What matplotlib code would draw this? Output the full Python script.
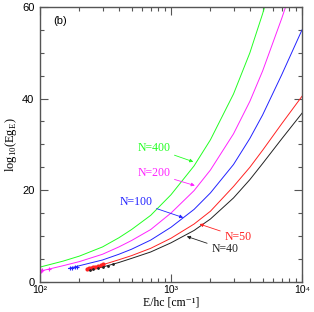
import matplotlib
matplotlib.use('Agg')
import matplotlib.pyplot as plt
from matplotlib import ticker

# curves: E/hc [cm^-1] and log10(E g_E)
e_400 = [100, 150, 200, 300, 400, 500, 700, 1000, 1500, 2000, 3000, 4000, 5000, 5300]
y_400 = [3.2, 4.5, 5.6, 7.6, 9.6, 11.4, 14.5, 19.0, 25.3, 31.0, 41.0, 50.0, 58.5, 61.0]

e_200 = [100, 150, 200, 300, 400, 500, 700, 1000, 1500, 2000, 3000, 4000, 5000, 7000, 7700]
y_200 = [2.3, 3.5, 4.4, 6.0, 7.6, 9.0, 11.4, 15.0, 19.9, 24.4, 32.3, 39.4, 46.0, 57.5, 61.0]

e_100 = [165, 200, 300, 400, 500, 700, 1000, 1500, 2000, 3000, 4000, 5000, 7000, 10000]
y_100 = [2.9, 3.5, 4.75, 6.0, 7.1, 9.1, 11.9, 15.8, 19.4, 25.6, 31.3, 36.4, 45.2, 55.0]

e_50 = [227, 300, 400, 500, 700, 1000, 1500, 2000, 3000, 4000, 5000, 7000, 10000]
y_50 = [2.9, 3.7, 4.8, 5.7, 7.3, 9.5, 12.6, 15.4, 20.8, 25.0, 28.7, 34.5, 40.5]

e_40 = [240, 300, 400, 500, 700, 1000, 1500, 2000, 3000, 4000, 5000, 7000, 10000]
y_40 = [2.6, 3.2, 4.2, 5.1, 6.5, 8.5, 11.2, 13.7, 18.3, 22.3, 25.8, 31.2, 36.8]

# discrete points at the low-energy end
pe_200 = [101, 104, 118]
py_200 = [2.4, 2.5, 2.8]
pe_100 = [169, 176, 186, 193]
py_100 = [3.0, 3.1, 3.2, 3.3]
pe_50 = [228, 236, 245, 255, 265, 278, 290, 305]
py_50 = [2.8, 2.9, 3.0, 3.15, 3.3, 3.45, 3.6, 3.8]
pe_40 = [240, 255, 275, 300, 330, 360]
py_40 = [2.6, 2.8, 3.0, 3.2, 3.5, 3.8]

labels = ['N=400', 'N=200', 'N=100', 'N=50', 'N=40']
label_xy = [(740, 29.2), (740, 23.7), (540, 17.5), (3240, 9.8), (2570, 7.1)]
arrow_xy = [(1480, 26.2), (1520, 21.0), (1240, 14.0), (1650, 12.6), (1320, 9.9)]
colors = ['#22ff22', '#ff22ff', '#2222ff', '#ff2222', '#222222']

serif = ['Liberation Serif', 'DejaVu Serif']
plt.rcParams['font.family'] = ['Liberation Sans', 'DejaVu Sans']
plt.rcParams['mathtext.fontset'] = 'custom'
plt.rcParams['mathtext.rm'] = 'Liberation Serif'

fig = plt.figure(figsize=(3.14, 3.12), dpi=100)
ax = fig.add_axes([0.1274, 0.097, 0.8344, 0.8806])

curves = [(e_400, y_400), (e_200, y_200), (e_100, y_100), (e_50, y_50), (e_40, y_40)]
for (e, y), c in zip(curves, colors):
    ax.plot(e, y, color=c, lw=0.7)

ax.plot(pe_200, py_200, '+', color=colors[1], ms=3, mew=0.8)
ax.plot(pe_100, py_100, '+', color=colors[2], ms=3, mew=0.8)
ax.plot(pe_50, py_50, 'o', color=colors[3], ms=3, mew=0)
ax.plot(pe_40, py_40, '.', color=colors[4], ms=2)

for lab, txy, axy, c in zip(labels, label_xy, arrow_xy, colors):
    ax.annotate(lab, xy=axy, xytext=txy, color=c, fontsize=8.5, family=serif,
                ha='center', va='center',
                arrowprops=dict(arrowstyle='-|>', color=c, lw=0.6,
                                mutation_scale=5, shrinkA=1, shrinkB=0))

ax.text(126, 57.0, '(b)', fontsize=8, ha='left', va='center')

ax.set_xscale('log')
ax.set_xlim(100, 10000)
ax.set_ylim(0, 60)
ax.yaxis.set_major_locator(ticker.MultipleLocator(20))
ax.yaxis.set_minor_locator(ticker.MultipleLocator(5))
ax.set_xticks([100, 1000, 10000])
ax.set_xticklabels(['10²', '10³', '10⁴'])
ax.tick_params(which='both', direction='in', top=True, right=True, labelsize=8,
               color='#555555', width=0.8)
ax.tick_params(which='major', length=6, pad=4)
ax.tick_params(which='minor', length=3)
ax.tick_params(axis='x', which='major', pad=2, labelsize=7.5)
for s in ax.spines.values():
    s.set_color('#555555')
    s.set_linewidth(1.0)

ax.set_xlabel('E/hc [cm⁻¹]', fontsize=8.5, family=serif, va='top')
ax.xaxis.set_label_coords(0.5, -0.052)
ax.set_ylabel('log$_{\\mathregular{10}}$(Eg$_{\\mathregular{E}}$)', fontsize=9, family=serif, labelpad=2)

fig.savefig('out.png', dpi=100)
